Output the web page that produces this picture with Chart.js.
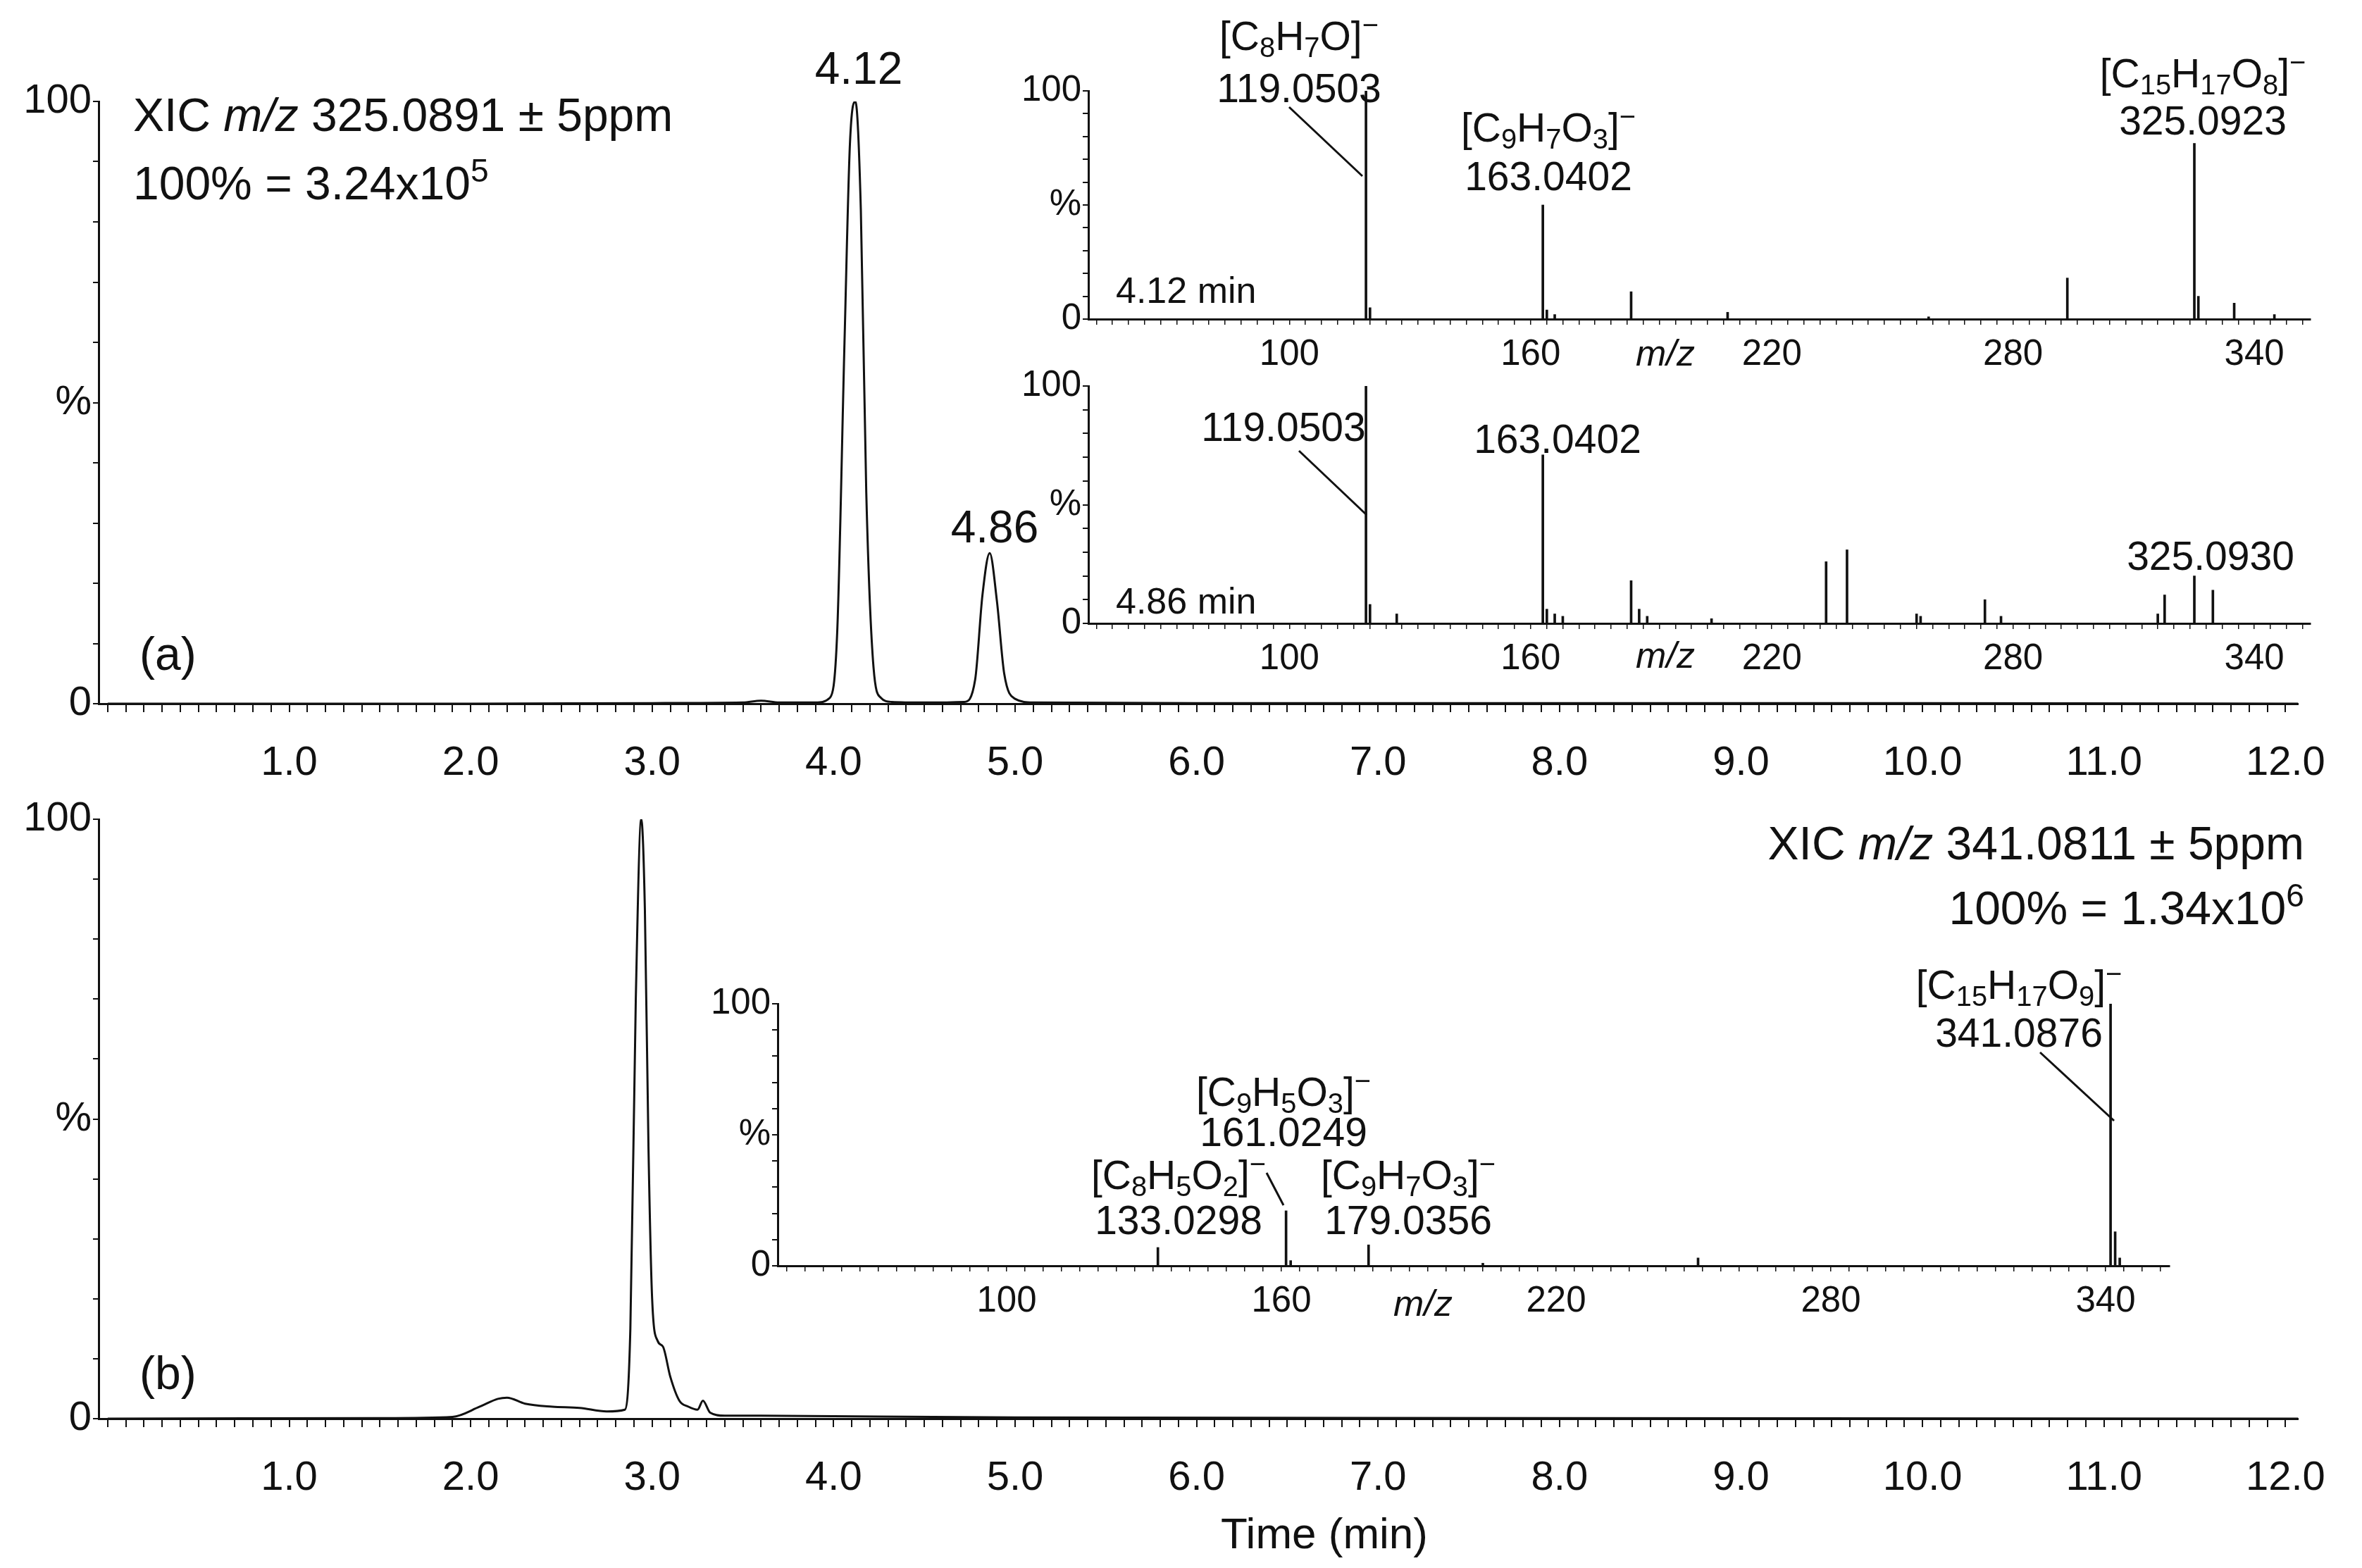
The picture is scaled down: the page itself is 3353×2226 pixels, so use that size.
<!DOCTYPE html>
<html>
<head>
<meta charset="utf-8">
<script src="https://cdn.jsdelivr.net/npm/chart.js@4.4.1/dist/chart.umd.min.js"></script>
<style>
  body { margin: 0; background: #fff; width: 3353px; height: 2226px; position: relative; overflow: hidden;
         font-family: "Liberation Sans", Arial, sans-serif; color: #111; }
  canvas { position: absolute; }
  .t { position: absolute; white-space: nowrap; line-height: 1; }
  .c { transform: translate(-50%, -50%); }
  .l { transform: translate(0, -50%); }
  .r { transform: translate(-100%, -50%); }
  sub { font-size: 70%; vertical-align: -0.25em; }
  sup { font-size: 70%; vertical-align: 0.55em; }
  svg { position: absolute; left: 0; top: 0; }
</style>
</head>
<body>
<canvas id="chartA"></canvas>
<canvas id="chartB"></canvas>
<canvas id="specA1"></canvas>
<canvas id="specA2"></canvas>
<canvas id="specB"></canvas>

<!-- chromatogram texts -->
<div class="t l" style="left:189px;top:163px;font-size:66px">XIC <i>m/z</i> 325.0891 ± 5ppm</div>
<div class="t l" style="left:189px;top:256px;font-size:66px">100% = 3.24x10<sup>5</sup></div>
<div class="t c" style="left:1219px;top:97px;font-size:64px">4.12</div>
<div class="t c" style="left:1412px;top:748px;font-size:64px">4.86</div>
<div class="t l" style="left:198px;top:928px;font-size:66px">(a)</div>
<div class="t r" style="left:3271px;top:1197px;font-size:66px">XIC <i>m/z</i> 341.0811 ± 5ppm</div>
<div class="t r" style="left:3271px;top:1285px;font-size:66px">100% = 1.34x10<sup>6</sup></div>
<div class="t l" style="left:198px;top:1949px;font-size:66px">(b)</div>
<div class="t c" style="left:1880px;top:2177px;font-size:62px">Time (min)</div>

<!-- inset a1 -->
<div class="t c" style="left:1844px;top:52px;font-size:57px">[C<sub>8</sub>H<sub>7</sub>O]<sup>−</sup></div>
<div class="t c" style="left:1844px;top:125px;font-size:57px">119.0503</div>
<div class="t c" style="left:2198px;top:182px;font-size:57px">[C<sub>9</sub>H<sub>7</sub>O<sub>3</sub>]<sup>−</sup></div>
<div class="t c" style="left:2198px;top:250px;font-size:57px">163.0402</div>
<div class="t c" style="left:3127px;top:105px;font-size:57px">[C<sub>15</sub>H<sub>17</sub>O<sub>8</sub>]<sup>−</sup></div>
<div class="t c" style="left:3127px;top:171px;font-size:57px">325.0923</div>
<div class="t l" style="left:1584px;top:412px;font-size:52px">4.12 min</div>
<div class="t c" style="left:2364px;top:501px;font-size:52px"><i>m/z</i></div>

<!-- inset a2 -->
<div class="t c" style="left:1822px;top:606px;font-size:57px">119.0503</div>
<div class="t c" style="left:2211px;top:623px;font-size:57px">163.0402</div>
<div class="t c" style="left:3138px;top:789px;font-size:57px">325.0930</div>
<div class="t l" style="left:1584px;top:853px;font-size:52px">4.86 min</div>
<div class="t c" style="left:2364px;top:930px;font-size:52px"><i>m/z</i></div>

<!-- inset b -->
<div class="t c" style="left:2866px;top:1399px;font-size:57px">[C<sub>15</sub>H<sub>17</sub>O<sub>9</sub>]<sup>−</sup></div>
<div class="t c" style="left:2866px;top:1466px;font-size:57px">341.0876</div>
<div class="t c" style="left:1822px;top:1551px;font-size:57px">[C<sub>9</sub>H<sub>5</sub>O<sub>3</sub>]<sup>−</sup></div>
<div class="t c" style="left:1822px;top:1607px;font-size:57px">161.0249</div>
<div class="t c" style="left:1673px;top:1669px;font-size:57px">[C<sub>8</sub>H<sub>5</sub>O<sub>2</sub>]<sup>−</sup></div>
<div class="t c" style="left:1673px;top:1732px;font-size:57px">133.0298</div>
<div class="t c" style="left:1999px;top:1669px;font-size:57px">[C<sub>9</sub>H<sub>7</sub>O<sub>3</sub>]<sup>−</sup></div>
<div class="t c" style="left:1999px;top:1732px;font-size:57px">179.0356</div>
<div class="t c" style="left:2020px;top:1850px;font-size:52px"><i>m/z</i></div>

<svg width="3353" height="2226">
  <g stroke="#111" stroke-width="3">
    <line x1="1830" y1="152" x2="1934" y2="250"/>
    <line x1="1844" y1="640" x2="1940" y2="731"/>
    <line x1="2896" y1="1494" x2="3001" y2="1591"/>
    <line x1="1798" y1="1665" x2="1822" y2="1711"/>
  </g>
</svg>

<script>
// chromatogram (a): XIC m/z 325.0891
const timeA = [0, 1.0, 2.0, 3.0, 3.5, 3.6, 3.7, 3.9, 3.98, 4.02, 4.06, 4.09, 4.12, 4.15, 4.18, 4.22, 4.26, 4.32, 4.5, 4.72, 4.78, 4.82, 4.86, 4.90, 4.94, 5.0, 5.1, 6, 8, 10, 12.07];
const intensityA = [0, 0, 0, 0.1, 0.2, 0.5, 0.2, 0.2, 1, 12, 60, 93, 100, 82, 35, 6, 1, 0.3, 0.2, 0.3, 4, 18, 25, 17, 5, 0.8, 0.2, 0.1, 0.1, 0.1, 0];

// chromatogram (b): XIC m/z 341.0811
const timeB = [0, 1.5, 1.9, 2.05, 2.15, 2.2, 2.3, 2.45, 2.6, 2.75, 2.85, 2.88, 2.91, 2.94, 2.96, 2.98, 3.0, 3.03, 3.06, 3.1, 3.15, 3.2, 3.25, 3.28, 3.32, 3.4, 3.6, 4, 5, 8, 12.07];
const intensityB = [0, 0.1, 0.3, 2, 3.3, 3.5, 2.5, 2, 1.8, 1.2, 1.5, 15, 70, 100, 85, 45, 20, 13, 12, 7, 3, 2, 1.5, 3, 1, 0.5, 0.5, 0.4, 0.2, 0.1, 0];

// MS/MS spectra
const mzA1 = [119.05, 120.05, 163.04, 164.04, 166, 185, 209, 259, 293.5, 325.09, 326.09, 335, 345];
const relA1 = [100, 5, 50, 4, 2, 12, 3, 1, 18, 77, 10, 7, 2];
const mzA2 = [119.05, 120.05, 126.7, 163.04, 164.04, 166, 168, 185, 187, 189, 205, 233.5, 238.7, 256, 257, 273, 277, 316, 317.7, 325.09, 329.7];
const relA2 = [100, 8, 4, 71, 6, 4, 3, 18, 6, 3, 2, 26, 31, 4, 3, 10, 3, 4, 12, 20, 14];
const mzB = [133.03, 161.02, 162.03, 179.04, 204, 251, 341.09, 342.09, 343.09];
const relB = [7, 21, 2, 8, 1, 3, 100, 13, 3];

// tick labels
const timeTickLabels = ['1.0', '2.0', '3.0', '4.0', '5.0', '6.0', '7.0', '8.0', '9.0', '10.0', '11.0', '12.0'];
const mzTickLabels = ['100', '160', '220', '280', '340'];
const percentTickLabels = { 0: '0', 50: '%', 100: '100' };

const FONT = '"Liberation Sans", Arial, sans-serif';
const INK = '#111';

function yAxis(width, fontSize) {
    return {
        min: 0, max: 100,
        afterFit: s => { s.width = width; },
        afterBuildTicks: s => { s.ticks = [0, 10, 20, 30, 40, 50, 60, 70, 80, 90, 100].map(v => ({ value: v })); },
        border: { display: true, color: INK, width: 3 },
        grid: { drawOnChartArea: false, drawTicks: true, tickLength: 8, color: INK, lineWidth: 2 },
        ticks: { padding: 2, color: INK, font: { family: FONT, size: fontSize }, autoSkip: false,
                 callback: v => percentTickLabels[v] ?? '' }
    };
}

function placeCanvas(id, box, yW, xH) {
    const c = document.getElementById(id);
    const pad = { left: 4, top: 40, right: 40, bottom: 10 };
    const left = box.left - yW - pad.left, top = box.top - pad.top;
    c.width = (box.right - box.left) + yW + pad.left + pad.right;
    c.height = (box.bottom - box.top) + pad.top + xH + pad.bottom;
    c.style.left = left + 'px';
    c.style.top = top + 'px';
    return { ctx: c.getContext('2d'), pad: pad };
}

function chromatogram(id, box, times, values) {
    const yW = 130, xH = 130;
    const p = placeCanvas(id, box, yW, xH);
    return new Chart(p.ctx, {
        type: 'scatter',
        data: { datasets: [{ data: times.map((t, i) => ({ x: t, y: values[i] })), showLine: true,
                             borderColor: INK, borderWidth: 3, pointRadius: 0, cubicInterpolationMode: 'monotone' }] },
        options: {
            responsive: false, animation: false, devicePixelRatio: 1,
            layout: { padding: p.pad },
            plugins: { legend: { display: false }, tooltip: { enabled: false } },
            scales: {
                x: {
                    type: 'linear', min: -0.05, max: 12.07,
                    afterFit: s => { s.height = xH; },
                    afterBuildTicks: s => { const t = []; for (let i = 0; i <= 120; i++) t.push({ value: i / 10 }); s.ticks = t; },
                    border: { display: true, color: INK, width: 3 },
                    grid: { drawOnChartArea: false, drawTicks: true, tickLength: 12, color: INK, lineWidth: 2 },
                    ticks: { padding: 38, maxRotation: 0, autoSkip: false, color: INK, font: { family: FONT, size: 58 },
                             callback: v => { const i = Math.round(v * 10); return (i % 10 === 0 && i > 0) ? timeTickLabels[i / 10 - 1] : ''; } }
                },
                y: yAxis(yW, 58)
            }
        }
    });
}

function spectrum(id, box, mz, rel) {
    const yW = 110, xH = 80;
    const p = placeCanvas(id, box, yW, xH);
    return new Chart(p.ctx, {
        type: 'bar',
        data: { datasets: [{ data: mz.map((m, i) => ({ x: m, y: rel[i] })), backgroundColor: INK, barThickness: 3 }] },
        options: {
            responsive: false, animation: false, devicePixelRatio: 1,
            layout: { padding: p.pad },
            plugins: { legend: { display: false }, tooltip: { enabled: false } },
            scales: {
                x: {
                    type: 'linear', min: 50, max: 354, offset: false,
                    afterFit: s => { s.height = xH; },
                    afterBuildTicks: s => { const t = []; for (let v = 52; v <= 352; v += 4) t.push({ value: v }); s.ticks = t; },
                    border: { display: true, color: INK, width: 3 },
                    grid: { drawOnChartArea: false, drawTicks: true, tickLength: 8, color: INK, lineWidth: 1.5, offset: false },
                    ticks: { padding: 12, maxRotation: 0, autoSkip: false, color: INK, font: { family: FONT, size: 51 },
                             callback: v => { const k = (v - 100) / 60; return (Number.isInteger(k) && k >= 0) ? mzTickLabels[k] : ''; } }
                },
                y: yAxis(yW, 51)
            }
        }
    });
}

chromatogram('chartA', { left: 140, top: 144, right: 3299, bottom: 999 }, timeA, intensityA);
chromatogram('chartB', { left: 140, top: 1163, right: 3299, bottom: 2014 }, timeB, intensityB);
spectrum('specA1', { left: 1545, top: 129, right: 3280, bottom: 453 }, mzA1, relA1);
spectrum('specA2', { left: 1545, top: 548, right: 3280, bottom: 885 }, mzA2, relA2);
spectrum('specB', { left: 1104, top: 1425, right: 3080, bottom: 1797 }, mzB, relB);
</script>
</body>
</html>
